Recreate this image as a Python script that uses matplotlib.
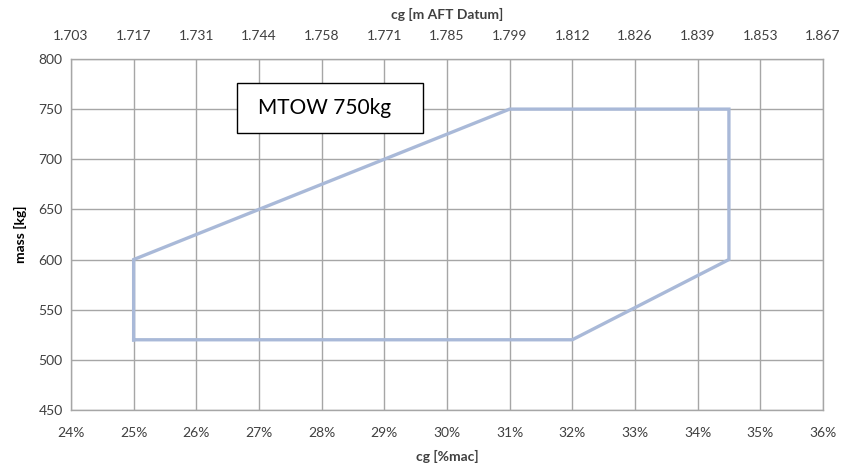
import matplotlib.pyplot as plt
from matplotlib.patches import Rectangle
from matplotlib.ticker import FuncFormatter

plt.rcParams['font.family'] = ['Lato', 'DejaVu Sans']

# envelope corners (cg in %mac, mass in kg)
cg_pct = [25, 25, 31, 34.5, 34.5, 32, 25]
mass = [520, 600, 750, 750, 600, 520, 520]

x_ticks = list(range(24, 37))
top_labels = ['1.703', '1.717', '1.731', '1.744', '1.758', '1.771', '1.785',
              '1.799', '1.812', '1.826', '1.839', '1.853', '1.867']
y_ticks = list(range(450, 801, 50))

fig = plt.figure(figsize=(8.51, 4.68), dpi=100)
ax = fig.add_axes([0.0834, 0.124, 0.8836, 0.750])

ax.plot(cg_pct, mass, color='#a9b9d8', lw=2.4, solid_joinstyle='miter', zorder=3)

ax.set_xlim(24, 36)
ax.set_ylim(450, 800)
ax.set_xticks(x_ticks)
ax.set_yticks(y_ticks)
ax.xaxis.set_major_formatter(FuncFormatter(lambda v, p: f'{v:.0f}%'))
ax.grid(True, color='#a6a6a6', lw=1.0)
ax.tick_params(length=0, labelsize=10, colors='#404040', pad=6)
ax.tick_params(axis='x', pad=12)
for s in ax.spines.values():
    s.set_color('#a6a6a6')
    s.set_linewidth(1.0)

ax.set_xlabel('cg [%mac]', fontsize=10, fontweight='bold', color='#404040', labelpad=8)
ax.set_ylabel('mass [kg]', fontsize=10, fontweight='bold', color='#000000', labelpad=8)

top = ax.secondary_xaxis('top')
top.set_xticks(x_ticks)
top.set_xticklabels(top_labels)
top.tick_params(length=0, labelsize=10, colors='#404040', pad=12)
top.spines['top'].set_visible(False)
top.set_xlabel('cg [m AFT Datum]', fontsize=10, fontweight='bold', color='#404040', labelpad=8)

# annotation box
ax.add_patch(Rectangle((26.65, 726), 2.97, 50, fc='white', ec='black', lw=1.0, zorder=5))
ax.text(26.98, 751, 'MTOW 750kg', fontsize=15, color='#000000', va='center', ha='left', zorder=6)

fig.savefig('out.png', dpi=100)
